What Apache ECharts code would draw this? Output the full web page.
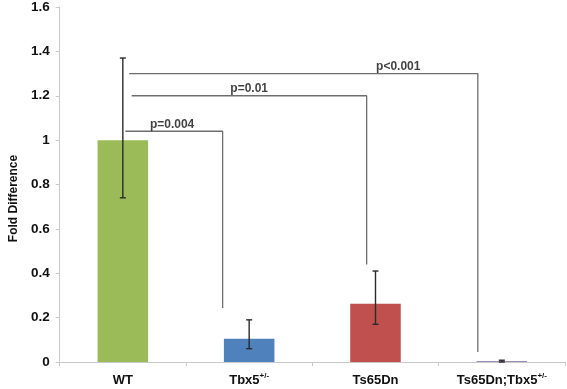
<!DOCTYPE html>
<html><head><meta charset="utf-8">
<script src="https://cdn.jsdelivr.net/npm/echarts@6/dist/echarts.min.js"></script>
<style>html,body{margin:0;padding:0;background:#fff}#c{width:567px;height:389px}</style>
</head><body><div id="c"></div>
<script>
// ---- data ----
const categories = ['WT', 'Tbx5', 'Ts65Dn', 'Ts65Dn;Tbx5'];
const superscripts = ['', '+/-', '', '+/-'];
const values = [1.0, 0.105, 0.262, 0.003];
const errLow = [0.74, 0.06, 0.17, 0.0];
const errHigh = [1.37, 0.19, 0.41, 0.008];
const barColors = ['#9BBB59', '#4F81BD', '#C0504D', '#8064A2'];
const yTicks = [0, 0.2, 0.4, 0.6, 0.8, 1, 1.2, 1.4, 1.6];
// significance brackets: start x, end x (category units), level, drop-to level
const brX0 = [0.52, 0.57, 0.55];
const brX1 = [1.29, 2.43, 3.31];
const brLevel = [1.04, 1.20, 1.30];
const brEnd = [0.243, 0.44, 0.045];
const pLabels = ['p=0.004', 'p=0.01', 'p<0.001'];
const pLabelX = [0.89, 1.50, 2.68];

const chart = echarts.init(document.getElementById('c'), null, {renderer: 'canvas'});
const FONT = 'Liberation Sans, Arial, sans-serif';

const bracketSeries = brX0.map((x0, i) => ({
  type: 'line', xAxisIndex: 1, symbol: 'none', silent: true, z: 5,
  lineStyle: {color: '#6e6e6e', width: 1.3},
  data: [[x0, brLevel[i]], [brX1[i], brLevel[i]], [brX1[i], brEnd[i]]]
}));

const option = {
  animation: false,
  grid: {left: 57, right: 2, top: 7, bottom: 27, containLabel: false},
  xAxis: [{
    type: 'category', data: categories,
    axisLine: {lineStyle: {color: '#c8c8c8', width: 1}},
    axisTick: {show: true, alignWithLabel: false, length: 4, lineStyle: {color: '#c8c8c8'}},
    axisLabel: {
      interval: 0, hideOverlap: false,
      margin: 10, color: '#111', fontFamily: FONT, fontWeight: 'bold', fontSize: 13,
      formatter: (v, idx) => '{m|' + v + '}' + (superscripts[idx] ? '{s|' + superscripts[idx] + '}' : ''),
      rich: {
        m: {fontFamily: FONT, fontWeight: 'bold', fontSize: 13, lineHeight: 16, color: '#111', verticalAlign: 'middle'},
        s: {fontFamily: FONT, fontWeight: 'bold', fontSize: 8, lineHeight: 10, color: '#111', verticalAlign: 'top'}
      }
    }
  }, {
    type: 'value', min: 0, max: 4, show: false
  }],
  yAxis: {
    type: 'value', min: 0, max: 1.6, interval: 0.2,
    name: 'Fold Difference', nameLocation: 'middle', nameGap: 38,
    nameTextStyle: {fontFamily: FONT, fontWeight: 'bold', fontSize: 12, color: '#111', padding: [0, 28, 0, 0]},
    axisLine: {show: true, lineStyle: {color: '#c8c8c8', width: 1}},
    axisTick: {show: true, length: 4, lineStyle: {color: '#c8c8c8'}},
    splitLine: {show: false},
    axisLabel: {
      margin: 10, color: '#111', fontFamily: FONT, fontWeight: 'bold', fontSize: 13.5,
      formatter: v => {
        const t = yTicks.find(k => Math.abs(k - v) < 1e-9);
        return t === undefined ? '' : String(t);
      }
    }
  },
  series: [{
    type: 'bar', barWidth: '40%', z: 2,
    data: values.map((v, i) => ({value: v, itemStyle: {color: barColors[i]}}))
  }, {
    type: 'custom', z: 4, silent: true,
    data: values.map((v, i) => [i, errLow[i], errHigh[i]]),
    renderItem: (params, api) => {
      const lo = api.coord([api.value(0), api.value(1)]);
      const hi = api.coord([api.value(0), api.value(2)]);
      const hw = 3;
      const st = {stroke: '#2a2a2a', lineWidth: 1.4};
      return {type: 'group', children: [
        {type: 'line', shape: {x1: lo[0], y1: lo[1], x2: hi[0], y2: hi[1]}, style: st},
        {type: 'line', shape: {x1: lo[0] - hw, y1: lo[1], x2: lo[0] + hw, y2: lo[1]}, style: st},
        {type: 'line', shape: {x1: hi[0] - hw, y1: hi[1], x2: hi[0] + hw, y2: hi[1]}, style: st}
      ]};
    }
  },
  ...bracketSeries,
  {
    type: 'scatter', xAxisIndex: 1, symbolSize: 0, z: 6, silent: true,
    data: pLabels.map((t, i) => ({value: [pLabelX[i], brLevel[i]], name: t})),
    label: {show: true, position: 'top', distance: 1, formatter: p => p.name,
      fontFamily: FONT, fontWeight: 'bold', fontSize: 12, color: '#111'}
  }]
};
chart.setOption(option);
</script></body></html>
